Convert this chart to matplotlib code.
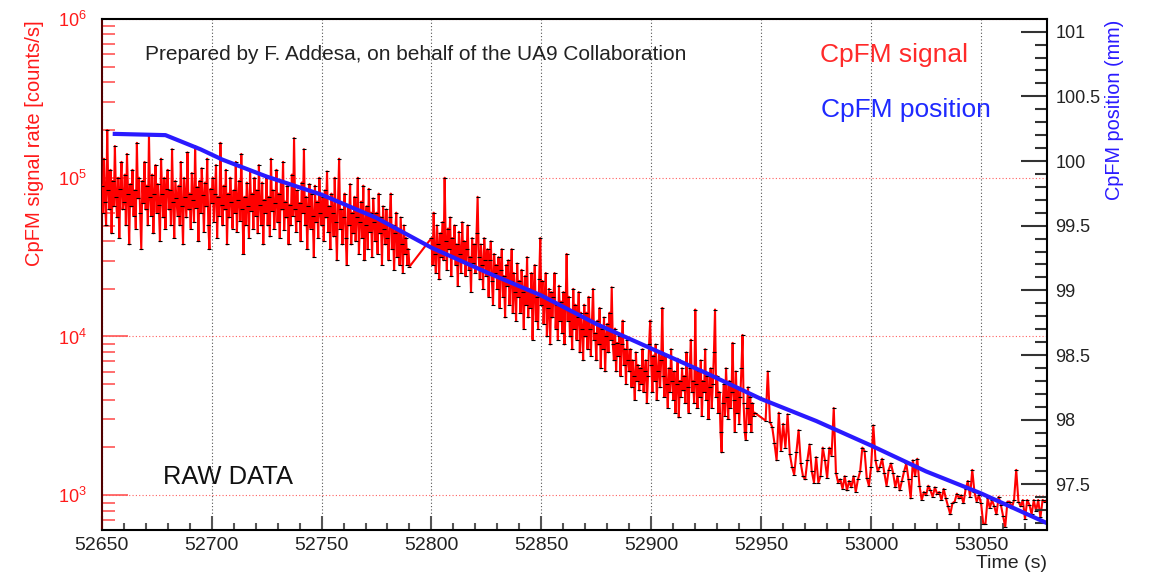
import numpy as np
import matplotlib
matplotlib.use('Agg')
import matplotlib.pyplot as plt
from matplotlib.ticker import LogLocator, MultipleLocator, FuncFormatter, NullFormatter

plt.rcParams['font.family'] = ['Liberation Sans', 'DejaVu Sans']
plt.rcParams['mathtext.fontset'] = 'custom'
plt.rcParams['mathtext.rm'] = 'Liberation Sans'
plt.rcParams['mathtext.it'] = 'Liberation Sans:italic'
plt.rcParams['mathtext.bf'] = 'Liberation Sans:bold'

# CpFM signal, stored as 100*log10(counts/s); each segment has its own start and step (s)
seg_start = [52650, 52800, 52952]
seg_step = [0.5, 0.5, 1.0]
seg_a = [495, 478, 512, 485, 470, 530, 492, 480, 505, 465,
         498, 482, 520, 488, 475, 500, 462, 493, 510, 480,
         485, 502, 470, 515, 490, 458, 496, 482, 505, 476,
         492, 468, 522, 487, 500, 478, 455, 498, 484, 510,
         480, 495, 470, 527, 488, 476, 502, 465, 490, 508,
         478, 496, 483, 460, 512, 490, 475, 500, 468, 493,
         505, 480, 492, 470, 518, 485, 462, 498, 487, 476,
         495, 470, 510, 482, 458, 500, 488, 475, 516, 480,
         490, 468, 503, 486, 472, 520, 481, 494, 460, 498,
         478, 506, 489, 466, 497, 482, 512, 470, 455, 493,
         484, 500, 472, 490, 508, 462, 488, 476, 522, 483,
         470, 495, 480, 505, 458, 490, 475, 500, 485, 468,
         492, 478, 510, 466, 486, 498, 473, 515, 480, 452,
         488, 470, 497, 482, 462, 505, 479, 490, 468, 500,
         476, 492, 465, 508, 483, 470, 497, 458, 486, 478,
         500, 470, 488, 463, 512, 479, 492, 468, 484, 505,
         472, 490, 462, 498, 480, 510, 467, 485, 475, 495,
         458, 483, 470, 502, 476, 525, 480, 466, 492, 473,
         484, 460, 497, 478, 518, 470, 488, 455, 482, 496,
         468, 490, 476, 450, 495, 472, 485, 462, 500, 478,
         470, 488, 460, 492, 475, 504, 466, 482, 455, 490,
         478, 463, 500, 472, 448, 485, 512, 468, 480, 458,
         475, 490, 462, 445, 482, 470, 496, 458, 478, 465,
         488, 460, 475, 500, 452, 472, 485, 462, 495, 448,
         470, 482, 455, 493, 466, 478, 450, 487, 472, 460,
         478, 452, 490, 465, 475, 445, 482, 468, 458, 480,
         462, 448, 475, 490, 455, 470, 442, 465, 478, 450,
         468, 445, 475, 458, 440, 470, 452, 462, 445, 455,
         444]
seg_b = [462, 445, 478, 452, 440, 470, 458, 436, 465, 450,
         472, 448, 500, 460, 442, 468, 455, 475, 438, 462,
         450, 470, 445, 458, 432, 466, 452, 440, 472, 447,
         460, 438, 455, 470, 442, 450, 428, 462, 446, 458,
         440, 465, 488, 450, 436, 458, 445, 430, 462, 448,
         438, 455, 425, 448, 460, 435, 420, 452, 440, 445,
         430, 450, 418, 442, 455, 425, 438, 412, 445, 432,
         448, 420, 435, 455, 415, 440, 428, 410, 446, 425,
         435, 415, 442, 428, 405, 438, 420, 450, 412, 430,
         418, 440, 398, 428, 445, 410, 425, 405, 436, 462,
         420, 435, 408, 425, 440, 400, 418, 430, 395, 428,
         412, 425, 440, 405, 420, 398, 432, 410, 422, 402,
         428, 395, 418, 452, 410, 425, 400, 416, 392, 430,
         405, 420, 398, 412, 428, 390, 415, 405, 385, 420,
         400, 415, 392, 425, 405, 388, 410, 430, 398, 402,
         385, 410, 395, 418, 380, 405, 392, 412, 378, 400,
         408, 390, 415, 398, 431, 395, 385, 405, 378, 396,
         388, 400, 375, 395, 410, 382, 392, 370, 398, 385,
         378, 392, 368, 385, 375, 360, 390, 372, 382, 366,
         380, 370, 392, 365, 378, 385, 358, 375, 395, 410,
         382, 365, 388, 372, 395, 360, 378, 390, 368, 385,
         418, 375, 362, 388, 370, 355, 380, 365, 392, 372,
         360, 378, 352, 370, 386, 349, 372, 362, 380, 366,
         375, 358, 390, 368, 352, 380, 398, 365, 372, 358,
         417, 370, 355, 378, 362, 385, 350, 372, 365, 392,
         360, 375, 348, 368, 380, 355, 370, 390, 417, 362,
         375, 352, 365, 340, 327, 358, 370, 350, 380, 362,
         348, 372, 355, 365, 396, 360, 340, 378, 352, 368,
         345, 362, 380, 401, 358, 340, 335, 355, 368, 345,
         362, 340, 358, 350, 352]
seg_c = [347, 378, 346, 343, 333, 322, 352, 328,
         345, 330, 351, 326, 318, 313, 327, 341, 320, 312,
         310, 322, 332, 315, 308, 324, 308, 312, 330, 322,
         311, 330, 325, 355, 314, 308, 310, 304, 312, 303,
         309, 305, 312, 302, 310, 315, 330, 328, 311, 306,
         318, 344, 322, 315, 318, 323, 314, 306, 316, 320,
         314, 305, 312, 303, 309, 315, 320, 310, 298, 322,
         312, 323, 306, 297, 302, 300, 306, 303, 299, 305,
         301, 302, 297, 304, 298, 293, 288, 295, 296, 301,
         298, 300, 295, 304, 309, 299, 316, 302, 296, 300,
         295, 282, 282, 298, 292, 297, 293, 288, 299, 294,
         287, 280, 296, 296, 292, 297, 316, 296, 293, 297,
         285, 297, 294, 288, 297, 290, 297, 286, 297, 296,
         297]

# CpFM position (mm)
pos_t = [52655, 52679, 52695, 52705, 52725, 52750, 52775, 52800, 52825, 52850,
         52875, 52900, 52925, 52950, 52975, 53000, 53025, 53050, 53080]
pos_mm = [100.21, 100.20, 100.09, 100.01, 99.88, 99.74, 99.56, 99.33, 99.14, 98.96,
          98.74, 98.55, 98.36, 98.16, 97.99, 97.80, 97.60, 97.43, 97.20]

segs = [seg_a, seg_b, seg_c]
t = np.concatenate([s + d * np.arange(len(v)) for s, d, v in zip(seg_start, seg_step, segs)])
rate = 10 ** (np.concatenate(segs) / 100.0)

W, H = 1151, 576
fig = plt.figure(figsize=(W / 100, H / 100), dpi=100)
ax = fig.add_axes([101.7 / W, 46 / H, 945.3 / W, 511 / H])
ax2 = ax.twinx()

ax.plot(t, rate, color='#ff0000', lw=1.5, marker='_', ms=3, mec='black', mew=0.8, zorder=3)
ax.set_yscale('log')
ax.set_ylim(604, 1e6)
ax.set_xlim(52650, 53080)

ax2.plot(pos_t, pos_mm, color='#2a1aff', lw=3, solid_capstyle='butt')
ax2.set_ylim(97.147, 101.098)

# grids
ax.set_axisbelow(True)
ax.grid(axis='x', which='major', color='#555555', ls=(0, (1, 2)), lw=0.8)
ax.grid(axis='y', which='major', color='#ff6060', ls=(0, (1, 2)), lw=0.8)

# x axis
ax.xaxis.set_major_locator(MultipleLocator(50))
ax.xaxis.set_minor_locator(MultipleLocator(10))
ax.tick_params(axis='x', which='both', direction='in', top=False, color='#555555', width=1.5,
               labelsize=14, pad=5, labelcolor='#222222')
ax.tick_params(axis='x', which='major', length=10)
ax.tick_params(axis='x', which='minor', length=5)

# left log axis
ax.yaxis.set_major_locator(LogLocator(base=10, numticks=10))
ax.yaxis.set_minor_locator(LogLocator(base=10, subs=np.arange(2, 10), numticks=20))
ax.yaxis.set_minor_formatter(NullFormatter())
ax.tick_params(axis='y', which='both', direction='in', right=False, color='#ff5555', width=1.2,
               labelcolor='#ff1a1a', labelsize=13, pad=11)
ax.tick_params(axis='y', which='major', length=19)
ax.tick_params(axis='y', which='minor', length=9.5)

# right axis
ax2.yaxis.set_major_locator(MultipleLocator(0.5))
ax2.yaxis.set_minor_locator(MultipleLocator(0.1))
ax2.yaxis.set_major_formatter(FuncFormatter(lambda v, p: '%g' % v))
ax2.tick_params(axis='y', which='both', direction='in', color='#333333', width=1.5,
                labelsize=13, pad=6, labelcolor='#222222')
ax2.tick_params(axis='y', which='major', length=19)
ax2.tick_params(axis='y', which='minor', length=8.6)

for name in ['left', 'top', 'bottom']:
    ax2.spines[name].set_visible(False)
ax.spines['left'].set_color('#500000')
for sp in [ax.spines['left'], ax.spines['top'], ax.spines['bottom'], ax2.spines['right']]:
    sp.set_linewidth(1.5)
ax.spines['right'].set_visible(False)

# axis titles
fig.text(35 / W, 1 - 20 / H, 'CpFM signal rate [counts/s]', color='#ff1a1a', fontsize=14.5,
         rotation=90, ha='center', va='top')
fig.text(1115 / W, 1 - 20 / H, 'CpFM position (mm)', color='#2a1aff', fontsize=14.3,
         rotation=90, ha='center', va='top')
fig.text(1047 / W, 1 - 564 / H, 'Time (s)', color='#222222', fontsize=14, ha='right', va='center')

# annotations
fig.text(145 / W, 1 - 60 / H, 'Prepared by F. Addesa, on behalf of the UA9 Collaboration',
         color='#222222', fontsize=15, ha='left', va='baseline')
fig.text(820 / W, 1 - 61.7 / H, 'CpFM signal', color='#ff2a2a', fontsize=19, ha='left', va='baseline')
fig.text(821 / W, 1 - 116.7 / H, 'CpFM position', color='#1f2aff', fontsize=19, ha='left', va='baseline')
fig.text(163 / W, 1 - 484.3 / H, 'RAW DATA', color='#111111', fontsize=18.4, ha='left', va='baseline')

fig.savefig('out.png', dpi=100)
